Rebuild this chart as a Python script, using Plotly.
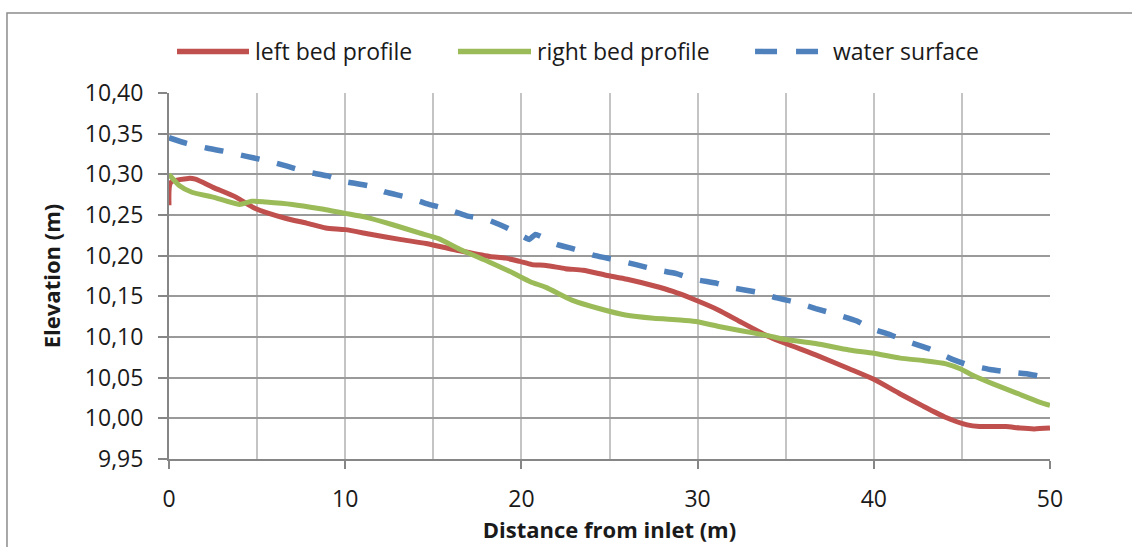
import plotly.graph_objects as go

# Longitudinal profiles along the channel (distance in m, elevation in m)
left_x = [0, 0.1, 1.1, 1.5, 2.5, 3.8, 4.9, 6.6, 7.8, 8.9, 10.0, 11.5, 13.1, 14.6,
          16.5, 18.2, 19.1, 19.9, 20.6, 21.4, 22.5, 23.5, 24.8, 26.0, 27.5, 28.6,
          29.7, 31.2, 32.4, 33.9, 35.0, 36.7, 38.6, 40.0, 41.5, 42.8, 44.1, 45.3,
          46.0, 47.5, 48.3, 49.1, 50]
left_y = [10.262, 10.290, 10.295, 10.294, 10.284, 10.272, 10.258, 10.246, 10.240,
          10.234, 10.232, 10.226, 10.220, 10.215, 10.206, 10.199, 10.197, 10.193,
          10.189, 10.188, 10.184, 10.182, 10.176, 10.171, 10.163, 10.156, 10.147,
          10.133, 10.119, 10.102, 10.092, 10.078, 10.061, 10.048, 10.030, 10.015,
          10.001, 9.992, 9.990, 9.990, 9.988, 9.987, 9.988]

right_x = [0, 0.6, 1.3, 2.5, 4.0, 4.7, 5.5, 7.0, 8.5, 10.0, 11.2, 12.7, 14.2, 15.3,
           16.5, 18.2, 19.5, 20.5, 21.4, 22.9, 24.4, 25.9, 27.5, 29.0, 29.9, 31.2,
           32.4, 33.9, 35.0, 36.7, 38.6, 40.0, 41.5, 42.8, 44.1, 44.9, 45.7, 46.8,
           48.1, 49.4, 50]
right_y = [10.300, 10.286, 10.278, 10.272, 10.263, 10.267, 10.266, 10.263, 10.258,
           10.252, 10.247, 10.238, 10.228, 10.221, 10.208, 10.192, 10.179, 10.168,
           10.161, 10.145, 10.135, 10.127, 10.123, 10.121, 10.119, 10.113, 10.108,
           10.102, 10.097, 10.092, 10.084, 10.080, 10.074, 10.071, 10.067, 10.061,
           10.052, 10.042, 10.031, 10.020, 10.016]

water_x = [0, 1.0, 2.2, 3.2, 4.4, 5.5, 6.7, 7.8, 9.0, 10.0, 11.3, 12.3, 13.5, 14.6,
           15.8, 16.9, 18.1, 19.1, 19.9, 20.45, 20.8, 22.0, 23.0, 24.2, 25.3, 26.5,
           27.6, 28.8, 29.8, 31.1, 32.1, 33.4, 34.5, 35.7, 36.7, 38.0, 39.0, 39.9,
           40.9, 42.1, 43.2, 44.3, 45.3, 46.6, 47.6, 48.9, 50]
water_y = [10.345, 10.338, 10.332, 10.328, 10.322, 10.317, 10.310, 10.303, 10.298,
           10.291, 10.286, 10.278, 10.272, 10.264, 10.257, 10.249, 10.244, 10.235,
           10.226, 10.220, 10.226, 10.214, 10.208, 10.200, 10.195, 10.189, 10.183,
           10.178, 10.171, 10.166, 10.160, 10.155, 10.148, 10.142, 10.135, 10.127,
           10.120, 10.110, 10.103, 10.093, 10.085, 10.074, 10.066, 10.060, 10.057,
           10.054, 10.049]

x_ticks = [0, 10, 20, 30, 40, 50]
y_ticks = [9.95, 10.00, 10.05, 10.10, 10.15, 10.20, 10.25, 10.30, 10.35, 10.40]

RED, GREEN, BLUE = "#C0504D", "#9BBB59", "#4F81BD"
FONT = "Open Sans"
TEXT = "#1a1a1a"
DASH = "19px,18px"

fig = go.Figure()
fig.add_trace(go.Scatter(x=left_x, y=left_y, name="left bed profile", mode="lines",
                         line=dict(color=RED, width=5, shape="spline", smoothing=0.6)))
fig.add_trace(go.Scatter(x=right_x, y=right_y, name="right bed profile", mode="lines",
                         line=dict(color=GREEN, width=5, shape="spline", smoothing=0.6)))
fig.add_trace(go.Scatter(x=water_x, y=water_y, name="water surface", mode="lines",
                         line=dict(color=BLUE, width=5.5, dash=DASH, shape="spline",
                                   smoothing=0.4)))

# Legend row drawn across the top of the chart
legend_items = [
    ("left bed profile", RED, "solid", 0.0091, 0.0908, 0.0953),
    ("right bed profile", GREEN, "solid", 0.3280, 0.4109, 0.4155),
    ("water surface", BLUE, "22px,19px", 0.6652, 0.7367, 0.7514),
]
LEG_Y = 1.1135
shapes = []
annotations = []
for label, color, dash, x0, x1, xt in legend_items:
    shapes.append(dict(type="line", xref="paper", yref="paper", x0=x0, x1=x1,
                       y0=LEG_Y, y1=LEG_Y, line=dict(color=color, width=5.5, dash=dash)))
    annotations.append(dict(text=label, xref="paper", yref="paper", x=xt, y=LEG_Y,
                            xanchor="left", yanchor="middle", showarrow=False,
                            font=dict(family=FONT, size=23, color=TEXT)))

# Chart frame
shapes.append(dict(type="rect", xref="paper", yref="paper", x0=-0.1839, x1=1.2,
                   y0=-0.4, y1=1.2189, line=dict(color="#8c8c8c", width=1.5),
                   layer="below"))

fig.update_layout(
    width=1132, height=547,
    margin=dict(l=169, r=82, t=93, b=84),
    paper_bgcolor="white", plot_bgcolor="white",
    separators=",.",
    showlegend=False,
    font=dict(family=FONT, size=23, color=TEXT),
    shapes=shapes, annotations=annotations,
    xaxis=dict(
        range=[0, 50], tickvals=x_ticks, ticks="outside", ticklen=8, tickwidth=1.5,
        tickcolor="#868686", showline=True, linecolor="#868686", linewidth=2,
        showgrid=True, gridcolor="#c4c4c4", gridwidth=1.5, zeroline=False,
        minor=dict(dtick=5, showgrid=True, gridcolor="#c4c4c4", gridwidth=1.5),
        ticklabelstandoff=10,
        title=dict(text="<b>Distance from inlet (m)</b>", standoff=6,
                   font=dict(family=FONT, size=22, color=TEXT)),
    ),
    yaxis=dict(
        range=[9.95, 10.40], tickvals=y_ticks, tickformat=".2f", ticks="outside",
        ticklen=9, tickwidth=1.5, tickcolor="#868686", showline=True,
        linecolor="#868686", linewidth=2, showgrid=True, gridcolor="#9a9a9a",
        gridwidth=1.5, zeroline=False, ticklabelstandoff=10,
        title=dict(text="<b>Elevation (m)</b>", standoff=18,
                   font=dict(family=FONT, size=22, color=TEXT)),
    ),
)

fig.write_html("out.html")
